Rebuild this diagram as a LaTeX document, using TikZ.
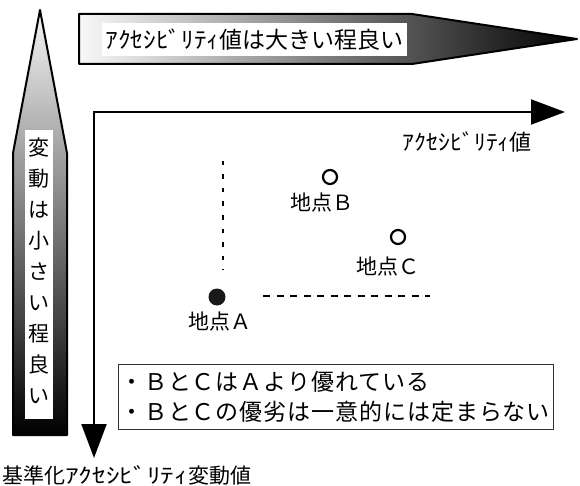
\documentclass[tikz,border=0pt]{standalone}
\usepackage{fontspec}
\usepackage{graphicx}
\newfontfamily\cjk{Noto Sans CJK JP}
\newfontfamily\cjksp[LetterSpace=4]{Noto Sans CJK JP}
\newcommand{\hwk}[2][1.08]{\scalebox{#1}[1]{#2}}
\usetikzlibrary{arrows.meta}
\tikzset{
  bigarrow/.style={draw=black, line width=2pt, line join=round},
  whitebox/.style={fill=white, draw=none},
  axis/.style={line width=2pt, {Triangle[length=34pt,width=25pt]}-{Triangle[length=34pt,width=25pt]}},
  guide/.style={line width=2.5pt},
  lbl/.style={font={\cjk\fontsize{21}{24}\selectfont}, inner sep=0pt},
  hlbl/.style={font={\cjk\fontsize{22}{24}\selectfont}, inner sep=0pt},
  openpt/.style={circle, draw=black, line width=2.2pt, minimum size=14pt, inner sep=0pt},
  fullpt/.style={circle, fill=black!90, minimum size=17pt, inner sep=0pt},
}
\begin{document}
\begin{tikzpicture}[x=1pt,y=-1pt]
\useasboundingbox (0,0) rectangle (580,486);
% top gradient arrow
\shadedraw[bigarrow, left color=gray!5, right color=black]
  (79,14) -- (412,14) -- (577,39) -- (412,64) -- (79,64) -- cycle;
\node[whitebox, minimum width=305pt, minimum height=33pt, inner sep=0pt] (topbox) at (254.5,39.5) {};
\node[font={\cjk\fontsize{23}{26}\selectfont}, inner sep=0pt] (toptext) at (topbox) {\hwk[1.1]{ｱｸｾｼﾋﾞﾘﾃｨ}値は大きい程良い};
% left gradient arrow
\shadedraw[bigarrow, top color=gray!8, bottom color=black]
  (40,10) -- (67,153) -- (67,435) -- (13,435) -- (13,153) -- cycle;
\node[whitebox, minimum width=28pt, minimum height=289pt, inner sep=0pt] (leftbox) at (39,274.5) {};
\node[font={\cjk\fontsize{21}{31}\selectfont}, align=center, inner sep=0pt] (lefttext) at (39,271)
  {変\\動\\は\\小\\さ\\い\\程\\良\\い};
% axes
\coordinate (corner) at (94,112);
\coordinate (xend) at (565,112);
\coordinate (yend) at (94,458);
\draw[axis] (xend) -- (corner) -- (yend);
\node[hlbl, anchor=east] (xlabel) at (532,142) {\hwk[1.08]{ｱｸｾｼﾋﾞﾘﾃｨ}値};
\node[font={\cjk\fontsize{21}{24}\selectfont}, inner sep=0pt, anchor=west] (ylabel) at (2,475) {基準化\hwk[1.3]{ｱｸｾｼﾋﾞﾘﾃｨ}変動値};
% points
\node[fullpt] (A) at (217,297) {};
\node[openpt] (B) at (330,177) {};
\node[openpt] (C) at (398,237) {};
\node[lbl] (Alabel) at (220,322) {地点Ａ};
\node[lbl] (Blabel) at (322,203) {地点Ｂ};
\node[lbl] (Clabel) at (388,267) {地点Ｃ};
% guide lines
\coordinate (vtop) at (223,161);
\coordinate (vbot) at (223,270);
\coordinate (hleft) at (263,296);
\coordinate (hright) at (430,296);
\draw[guide, dash pattern=on 4.5pt off 9pt] (vtop) -- (vbot);
\draw[line width=2pt, dash pattern=on 7pt off 6.5pt] (hleft) -- (hright);
% note box
\node[draw=black!80, line width=1pt, minimum width=435pt, minimum height=65pt, inner sep=0pt] (note) at (335.5,396.5) {};
\node[font={\cjksp\fontsize{23}{30}\selectfont}, align=left, anchor=west, inner sep=0pt] (notetext) at (120,397)
  {・ＢとＣはＡより優れている\\・ＢとＣの優劣は一意的には定まらない};
\end{tikzpicture}
\end{document}
